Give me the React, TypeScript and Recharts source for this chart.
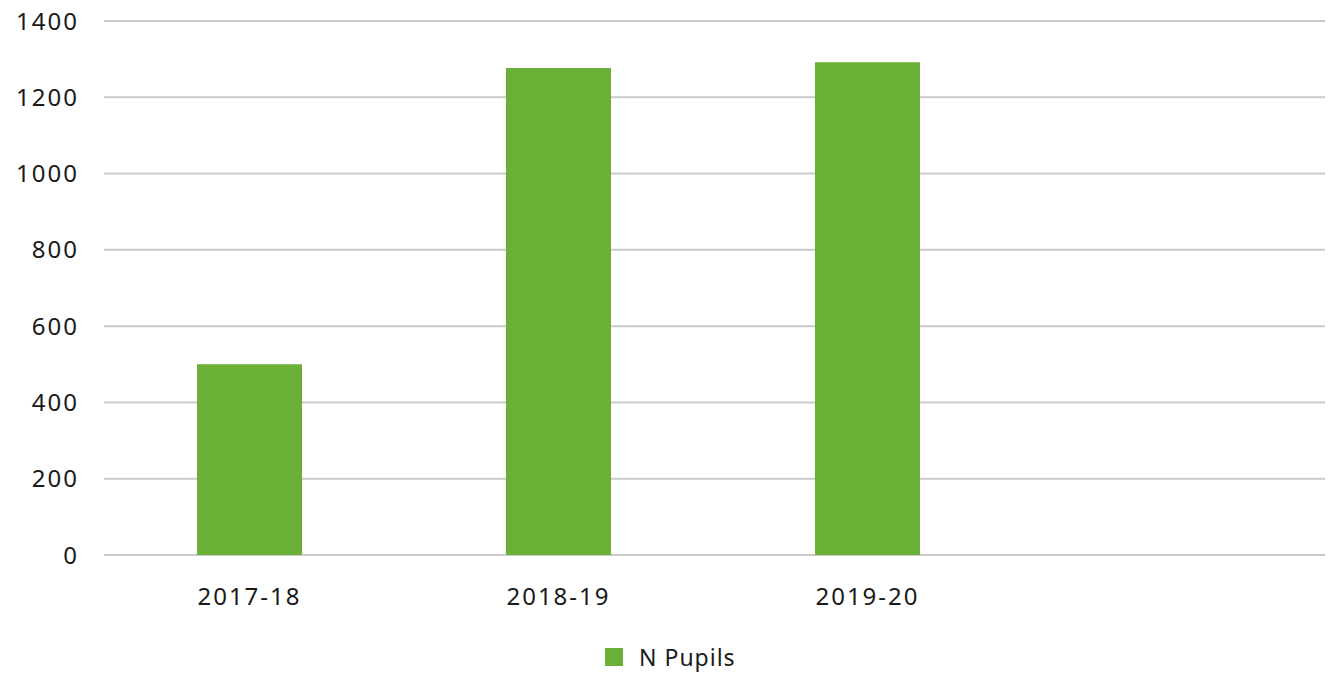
import React from "react";
import { BarChart, Bar, XAxis, YAxis, CartesianGrid } from "recharts";

const categories = ["2017-18", "2018-19", "2019-20", ""];
const pupils = [500, 1277, 1292, null];
const yTicks = [0, 200, 400, 600, 800, 1000, 1200, 1400];
const seriesName = "N Pupils";
const seriesColor = "#6BB036";

const data = categories.map((c, i) => ({ year: c, pupils: pupils[i] }));

const FONT = "'Noto Sans', sans-serif";
const tickStyle = { fill: "#1a1a1a", fontSize: 24, fontFamily: FONT, letterSpacing: 2 };

export default function App() {
  return (
    <div style={{ position: "absolute", left: 0, top: 0, width: 1328, height: 675, background: "#fff" }}>
      <BarChart
        width={1328}
        height={675}
        data={data}
        margin={{ top: 21, right: 3, bottom: 90, left: 0 }}
      >
        <CartesianGrid vertical={false} stroke="#c9c9c9" strokeWidth={2} />
        <XAxis
          dataKey="year"
          height={30}
          axisLine={false}
          tickLine={false}
          tickSize={0}
          tickMargin={33}
          padding={{ left: -9, right: -6 }}
          tick={tickStyle}
          interval={0}
        />
        <YAxis
          width={104}
          domain={[0, 1400]}
          ticks={yTicks}
          axisLine={false}
          tickLine={false}
          tickSize={0}
          tickMargin={25}
          tick={tickStyle}
        />
        <Bar dataKey="pupils" name={seriesName} fill={seriesColor} barSize={105} isAnimationActive={false} />
      </BarChart>
      <div
        style={{
          position: "absolute",
          left: 605,
          top: 641,
          display: "flex",
          alignItems: "center",
          fontFamily: FONT,
          fontSize: 23,
          color: "#1a1a1a",
          letterSpacing: 1,
          whiteSpace: "nowrap",
        }}
      >
        <span style={{ display: "inline-block", width: 18, height: 18, background: seriesColor, marginRight: 16 }} />
        <span>{seriesName}</span>
      </div>
    </div>
  );
}
